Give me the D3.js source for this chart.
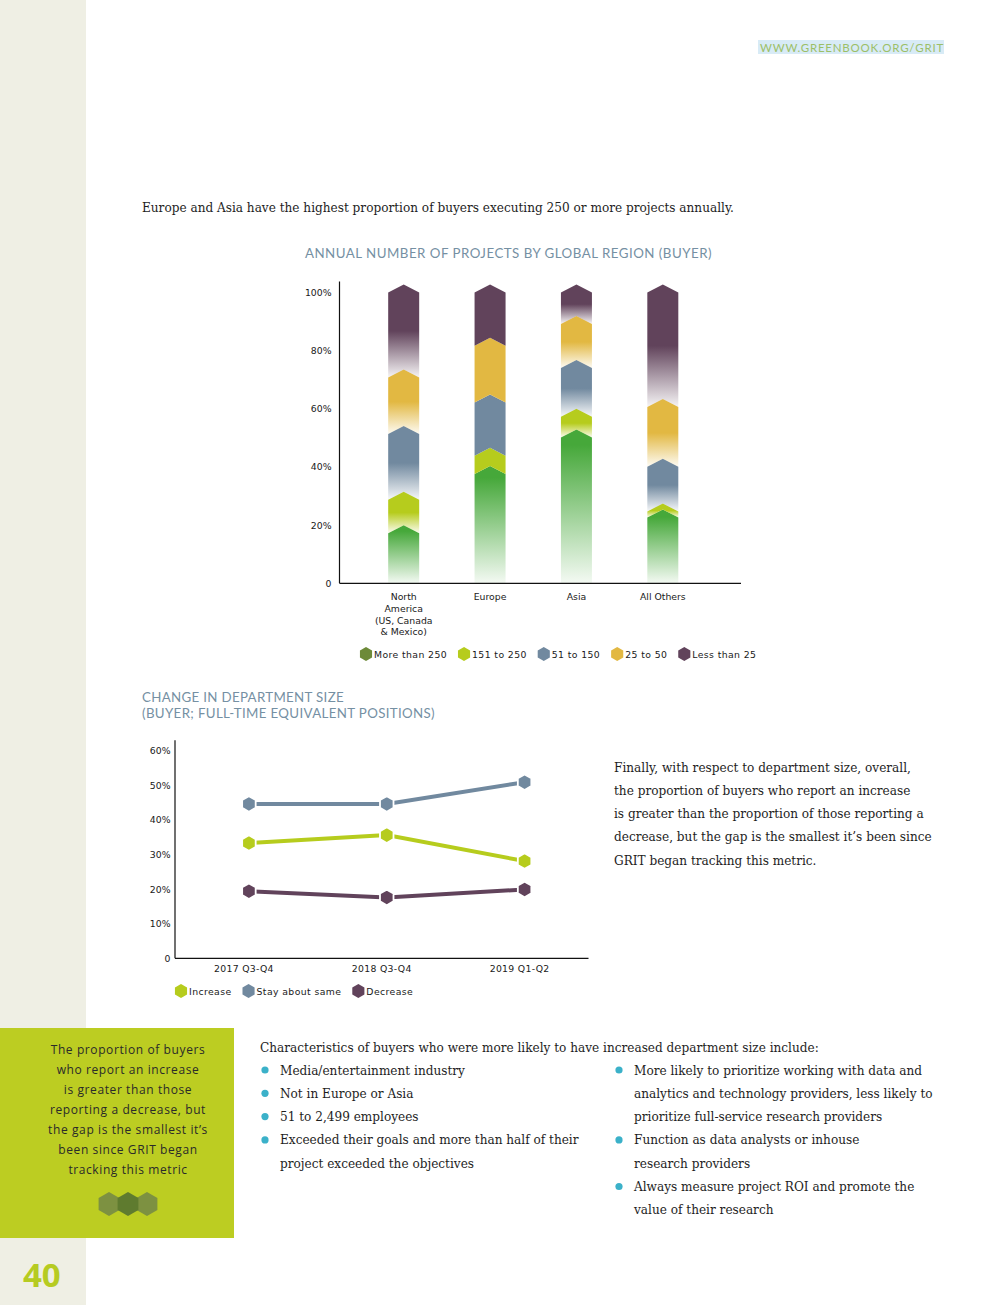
<!DOCTYPE html>
<html>
<head>
<meta charset="utf-8">
<script src="https://cdn.jsdelivr.net/npm/d3@7"></script>
<style>
  body { margin: 0; background: #fff; }
  svg { display: block; }
</style>
</head>
<body>
<div id="page"></div>
<script>
// ---- data: annual number of projects by region (buyer), % of buyers
const regions = ['North America', 'Europe', 'Asia', 'All Others'];
const regionLabels = [['North', 'America', '(US, Canada', '& Mexico)'], ['Europe'], ['Asia'], ['All Others']];
const projectBands = ['More than 250', '151 to 250', '51 to 150', '25 to 50', 'Less than 25'];
const moreThan250 = [17.2, 37.6, 50.1, 22.6];
const from151to250 = [11.5, 6.3, 7.2, 2.1];
const from51to150 = [22.6, 18.3, 16.7, 15.4];
const from25to50 = [19.5, 19.5, 15.2, 20.5];
const lessThan25 = [29.2, 18.3, 10.8, 39.4];
const barTicks = [0, 20, 40, 60, 80, 100];

// ---- data: change in department size
const periods = ['2017 Q3-Q4', '2018 Q3-Q4', '2019 Q1-Q2'];
const sizeSeries = ['Increase', 'Stay about same', 'Decrease'];
const increase = [33.3, 35.6, 28.1];
const staySame = [44.6, 44.6, 50.9];
const decrease = [19.4, 17.6, 19.9];
const lineTicks = [0, 10, 20, 30, 40, 50, 60];

// ---- page text
const introText = 'Europe and Asia have the highest proportion of buyers executing 250 or more projects annually.';
const sideParagraph = [
  'Finally, with respect to department size, overall,',
  'the proportion of buyers who report an increase',
  'is greater than the proportion of those reporting a',
  'decrease, but the gap is the smallest it\u2019s been since',
  'GRIT began tracking this metric.'
];
const calloutLines = [
  'The proportion of buyers', 'who report an increase', 'is greater than those',
  'reporting a decrease, but', 'the gap is the smallest it\u2019s', 'been since GRIT began',
  'tracking this metric'
];
const bulletIntro = 'Characteristics of buyers who were more likely to have increased department size include:';
const bulletsLeft = [
  ['Media/entertainment industry'],
  ['Not in Europe or Asia'],
  ['51 to 2,499 employees'],
  ['Exceeded their goals and more than half of their', 'project exceeded the objectives']
];
const bulletsRight = [
  ['More likely to prioritize working with data and', 'analytics and technology providers, less likely to', 'prioritize full-service research providers'],
  ['Function as data analysts or inhouse', 'research providers'],
  ['Always measure project ROI and promote the', 'value of their research']
];

// ---- styles
const sans = '"DejaVu Sans", "Open Sans", sans-serif';
const titleFont = 'Lato, "Open Sans", sans-serif';
const calloutFont = '"Open Sans", Lato, sans-serif';
const serif = '"DejaVu Serif", "Liberation Serif", serif';
const bodySize = 12.1;
const labelSize = 9.3;
const barColors = ['#46a83a', '#b6cc1d', '#71899f', '#e2b842', '#61435b'];
const legendColors = ['#6d8a39', '#b6cc1d', '#71899f', '#e2b842', '#61435b'];
const lineColors = ['#b6cc1d', '#71899f', '#61435b'];
const titleColor = '#7590a3';
const solidRegions = ['Europe'];

const W = 990, H = 1305;
const svg = d3.select('#page').append('svg')
  .attr('width', W).attr('height', H)
  .attr('viewBox', `0 0 ${W} ${H}`);
const defs = svg.append('defs');

function hexPath(cx, cy, r) {
  const pts = d3.range(6).map(i => {
    const a = Math.PI / 180 * (60 * i - 90);
    return [cx + r * Math.cos(a), cy + r * Math.sin(a)];
  });
  return 'M' + pts.map(p => p.join(',')).join('L') + 'Z';
}

// spread a line of tracked caps so it spans the given width
function track(sel, width) {
  const n = sel.text().length;
  const w = sel.node().getComputedTextLength();
  sel.attr('letter-spacing', (width - w) / n);
  return sel;
}

// page furniture
svg.append('rect').attr('x', 0).attr('y', 0).attr('width', 86).attr('height', H).attr('fill', '#efefe4');
svg.append('rect').attr('x', 758).attr('y', 40).attr('width', 186).attr('height', 14).attr('fill', '#d8ebf6');
track(svg.append('text').attr('x', 760).attr('y', 51.5)
  .attr('font-family', titleFont).attr('font-size', 11.5)
  .attr('fill', '#9cbf68').text('WWW.GREENBOOK.ORG/GRIT'), 184);

svg.append('text').attr('x', 142).attr('y', 212)
  .attr('font-family', serif).attr('font-size', bodySize).attr('fill', '#1e1e1e').text(introText);

// ================= stacked bar chart =================
const barPlot = { left: 339.5, right: 741 };
const yBar = d3.scaleLinear().domain([0, 100]).range([583.3, 292.5]);
const xBar = d3.scaleBand().domain(regions).range([barPlot.left + 21, barPlot.right - 35]);
const barW = 31, peak = 8;

track(svg.append('text').attr('x', 305).attr('y', 258)
  .attr('font-family', titleFont).attr('font-size', 13.3)
  .attr('fill', titleColor).text('ANNUAL NUMBER OF PROJECTS BY GLOBAL REGION (BUYER)'), 407);

barColors.forEach((c, k) => {
  const g = defs.append('linearGradient').attr('id', 'fade' + k)
    .attr('x1', 0).attr('y1', 0).attr('x2', 0).attr('y2', 1);
  const stops = k === 0
    ? [[0, 1], [0.1, 1], [1, 0.06]]
    : [[0, 1], [0.5, 1], [1, 0.06]];
  stops.forEach(([o, op]) => g.append('stop').attr('offset', o).attr('stop-color', c).attr('stop-opacity', op));
});

const barRows = regions.map((r, i) => ({
  region: r,
  'More than 250': moreThan250[i],
  '151 to 250': from151to250[i],
  '51 to 150': from51to150[i],
  '25 to 50': from25to50[i],
  'Less than 25': lessThan25[i]
}));
const stacked = d3.stack().keys(projectBands)(barRows);

const barG = svg.append('g');
stacked.forEach((s, k) => {
  barG.selectAll(null)
    .data(s)
    .join('path')
    .attr('d', d => {
      const cx = xBar(d.data.region) + xBar.bandwidth() / 2;
      const l = cx - barW / 2, r = cx + barW / 2;
      const top = yBar(d[1]), bot = yBar(d[0]);
      let p = `M${l},${top}L${cx},${top - peak}L${r},${top}L${r},${bot}`;
      p += k === 0 ? `L${l},${bot}Z` : `L${cx},${bot - peak}L${l},${bot}Z`;
      return p;
    })
    .attr('fill', d => (k > 0 && solidRegions.includes(d.data.region)) ? barColors[k] : `url(#fade${k})`);
});

// axes
const yAxisBar = svg.append('g').attr('transform', `translate(${barPlot.left},0)`)
  .call(d3.axisLeft(yBar).tickValues(barTicks).tickFormat(d => d === 0 ? '0' : d + '%').tickSize(0).tickPadding(8));
yAxisBar.select('.domain').remove();
yAxisBar.selectAll('text').attr('font-family', sans).attr('font-size', labelSize).attr('fill', '#1a1a1a');

svg.append('line').attr('x1', barPlot.left).attr('x2', barPlot.left)
  .attr('y1', yBar(103.8)).attr('y2', yBar(0)).attr('stroke', '#111').attr('stroke-width', 1.2);
svg.append('line').attr('x1', barPlot.left).attr('x2', barPlot.right)
  .attr('y1', yBar(0)).attr('y2', yBar(0)).attr('stroke', '#111').attr('stroke-width', 1.2);

regions.forEach((r, i) => {
  const t = svg.append('text').attr('text-anchor', 'middle')
    .attr('font-family', sans).attr('font-size', labelSize).attr('fill', '#1a1a1a');
  regionLabels[i].forEach((line, j) => {
    t.append('tspan').attr('x', xBar(r) + xBar.bandwidth() / 2)
      .attr('y', yBar(0) + 17 + j * 11.6).text(line);
  });
});

// legend
function drawLegend(items, colors, x0, y, r) {
  let cx = x0;
  items.forEach((name, i) => {
    svg.append('path').attr('d', hexPath(cx + r, y, r)).attr('fill', colors[i]);
    const t = svg.append('text').attr('x', cx + 2 * r + 1).attr('y', y + 3.5)
      .attr('font-family', sans).attr('font-size', labelSize).attr('letter-spacing', 0.4)
      .attr('fill', '#1a1a1a').text(name);
    cx += 2 * r + 1 + t.node().getComputedTextLength() + 10;
  });
}
drawLegend(projectBands, legendColors, 359, 654, 7);

// ================= line chart =================
['CHANGE IN DEPARTMENT SIZE', '(BUYER; FULL-TIME EQUIVALENT POSITIONS)'].forEach((line, i) => {
  track(svg.append('text').attr('x', 142).attr('y', 702 + i * 16)
    .attr('font-family', titleFont).attr('font-size', 13.3).attr('fill', titleColor).text(line),
    i === 0 ? 202 : 293);
});

const linePlot = { left: 175, right: 588.5 };
const yLine = d3.scaleLinear().domain([0, 60]).range([958.3, 750.7]);
const xLine = d3.scaleBand().domain(periods).range([linePlot.left, linePlot.right]);
const pointX = p => xLine(p) + xLine.bandwidth() / 2 + 5;

const yAxisLine = svg.append('g').attr('transform', `translate(${linePlot.left},0)`)
  .call(d3.axisLeft(yLine).tickValues(lineTicks).tickFormat(d => d === 0 ? '0' : d + '%').tickSize(0).tickPadding(4.5));
yAxisLine.select('.domain').remove();
yAxisLine.selectAll('text').attr('font-family', sans).attr('font-size', labelSize).attr('fill', '#1a1a1a');

svg.append('line').attr('x1', linePlot.left).attr('x2', linePlot.left)
  .attr('y1', yLine(63)).attr('y2', yLine(0)).attr('stroke', '#111').attr('stroke-width', 1.2);
svg.append('line').attr('x1', linePlot.left).attr('x2', linePlot.right)
  .attr('y1', yLine(0)).attr('y2', yLine(0)).attr('stroke', '#111').attr('stroke-width', 1.2);

const xAxisLine = svg.append('g').attr('transform', `translate(0,${yLine(0)})`)
  .call(d3.axisBottom(xLine).tickSize(0).tickPadding(7.5));
xAxisLine.select('.domain').remove();
xAxisLine.selectAll('text').attr('font-family', sans).attr('font-size', labelSize)
  .attr('letter-spacing', 0.3).attr('fill', '#1a1a1a');

const lineData = [increase, staySame, decrease];
const lineGen = d3.line().x((d, i) => pointX(periods[i])).y(d => yLine(d));
lineData.forEach((vals, k) => {
  svg.append('path').attr('d', lineGen(vals)).attr('fill', 'none')
    .attr('stroke', lineColors[k]).attr('stroke-width', 4);
});
lineData.forEach((vals, k) => {
  svg.append('g').selectAll('path').data(vals).join('path')
    .attr('d', (d, i) => hexPath(pointX(periods[i]), yLine(d), 7.8))
    .attr('fill', lineColors[k]).attr('stroke', '#fff').attr('stroke-width', 1.8);
});

drawLegend(sizeSeries, lineColors, 174, 991, 7);

// ---- right-hand paragraph
svg.append('text').attr('font-family', serif).attr('font-size', bodySize).attr('fill', '#1e1e1e')
  .selectAll('tspan').data(sideParagraph).join('tspan')
  .attr('x', 614).attr('y', (d, i) => 771.5 + i * 23.3).text(d => d);

// ---- callout box
svg.append('rect').attr('x', 0).attr('y', 1028).attr('width', 234).attr('height', 210).attr('fill', '#bccd22');
svg.append('text').attr('text-anchor', 'middle').attr('font-family', calloutFont).attr('font-size', 12)
  .attr('letter-spacing', 0.6).attr('fill', '#2a2a2a')
  .selectAll('tspan').data(calloutLines).join('tspan')
  .attr('x', 128).attr('y', (d, i) => 1053.5 + i * 20).text(d => d);
[['#7d9141', 109], ['#7d9141', 147], ['#5f7b2f', 128]].forEach(([c, x]) => {
  svg.append('path').attr('d', hexPath(x, 1204, 12)).attr('fill', c);
});

svg.append('text').attr('x', 23).attr('y', 1287).attr('font-family', calloutFont).attr('font-weight', 700)
  .attr('font-size', 33).attr('fill', '#b6cb22').text('40');

// ---- bullets
svg.append('text').attr('x', 260).attr('y', 1051.5).attr('font-family', serif).attr('font-size', bodySize)
  .attr('fill', '#1e1e1e').text(bulletIntro);

function drawBullets(list, dotX, textX, y0) {
  let row = 0;
  list.forEach(lines => {
    svg.append('circle').attr('cx', dotX).attr('cy', y0 + row * 23.3 - 4.5).attr('r', 3.6).attr('fill', '#3bb1c9');
    lines.forEach(line => {
      svg.append('text').attr('x', textX).attr('y', y0 + row * 23.3)
        .attr('font-family', serif).attr('font-size', bodySize).attr('fill', '#1e1e1e').text(line);
      row++;
    });
  });
}
drawBullets(bulletsLeft, 265, 280, 1074.5);
drawBullets(bulletsRight, 619, 634, 1074.5);
</script>
</body>
</html>
